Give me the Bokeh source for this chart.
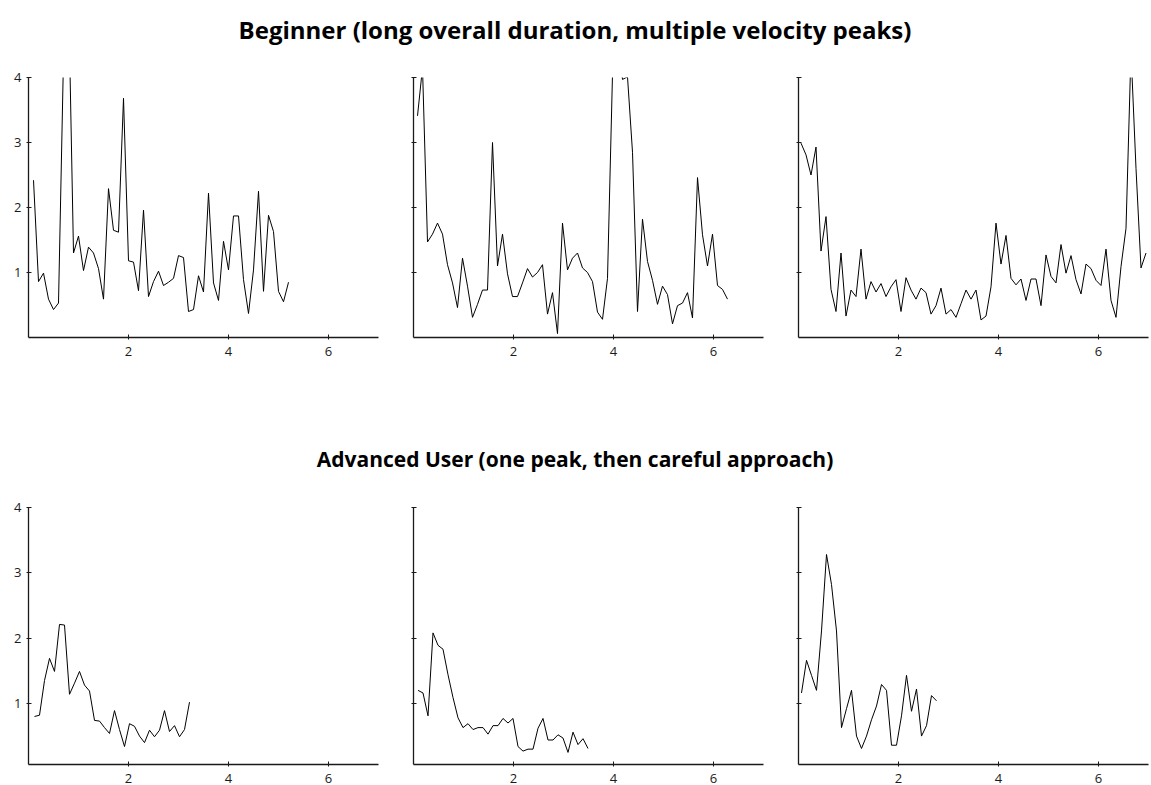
from bokeh.plotting import figure
from bokeh.layouts import column, row
from bokeh.models import Div, Range1d, FixedTicker
from bokeh.embed import file_html
from bokeh.resources import INLINE

# ---------------- data ----------------
title_top = "Beginner (long overall duration, multiple velocity peaks)"
title_bottom = "Advanced User (one peak, then careful approach)"

x_ticks = [2, 4, 6]
y_ticks = [1, 2, 3, 4]
sample_step = 0.1  # seconds between samples

beginner_1_start = 0.10
beginner_1 = [2.42, 0.86, 0.99, 0.59, 0.43, 0.53, 4.3, 5.3, 1.30, 1.56,
              1.03, 1.39, 1.30, 1.06, 0.59, 2.29, 1.65, 1.62, 3.68, 1.18,
              1.16, 0.72, 1.96, 0.63, 0.86, 1.02, 0.80, 0.85, 0.91, 1.26,
              1.23, 0.40, 0.43, 0.95, 0.70, 2.22, 0.84, 0.57, 1.48, 1.04,
              1.87, 1.87, 0.89, 0.37, 1.04, 2.25, 0.71, 1.88, 1.63, 0.71,
              0.55, 0.85]

beginner_2_start = 0.08
beginner_2 = [3.41, 4.15, 1.47, 1.59, 1.76, 1.59, 1.12, 0.84, 0.46, 1.22,
              0.79, 0.31, 0.51, 0.73, 0.73, 3.00, 1.10, 1.59, 0.98, 0.63,
              0.63, 0.84, 1.06, 0.93, 1.00, 1.12, 0.36, 0.69, 0.06, 1.76,
              1.04, 1.22, 1.30, 1.07, 1.00, 0.86, 0.39, 0.28, 0.91, 4.05,
              4.60, 3.97, 4.01, 2.85, 0.40, 1.82, 1.17, 0.88, 0.51, 0.79,
              0.66, 0.21, 0.49, 0.53, 0.69, 0.30, 2.46, 1.58, 1.10, 1.59,
              0.80, 0.74, 0.59]

beginner_3_start = 0.05
beginner_3 = [2.99, 2.81, 2.50, 2.93, 1.33, 1.86, 0.74, 0.40, 1.30, 0.33,
              0.73, 0.63, 1.36, 0.59, 0.86, 0.70, 0.83, 0.63, 0.78, 0.89,
              0.40, 0.92, 0.73, 0.59, 0.76, 0.69, 0.36, 0.49, 0.76, 0.36,
              0.43, 0.31, 0.52, 0.73, 0.59, 0.73, 0.27, 0.33, 0.78, 1.76,
              1.13, 1.57, 0.91, 0.81, 0.90, 0.57, 0.90, 0.90, 0.49, 1.27,
              0.94, 0.84, 1.43, 0.99, 1.26, 0.89, 0.67, 1.13, 1.06, 0.88,
              0.80, 1.36, 0.57, 0.31, 1.09, 1.68, 4.40, 2.60, 1.07, 1.30]

advanced_1_start = 0.12
advanced_1 = [0.80, 0.82, 1.35, 1.69, 1.49, 2.21, 2.20, 1.14, 1.31, 1.49,
              1.28, 1.19, 0.74, 0.73, 0.63, 0.54, 0.89, 0.60, 0.34, 0.69,
              0.65, 0.50, 0.40, 0.59, 0.49, 0.59, 0.89, 0.57, 0.66, 0.49,
              0.60, 1.02]

advanced_2_start = 0.09
advanced_2 = [1.20, 1.16, 0.81, 2.08, 1.89, 1.83, 1.44, 1.09, 0.78, 0.63,
              0.69, 0.60, 0.63, 0.63, 0.53, 0.66, 0.66, 0.77, 0.70, 0.77,
              0.34, 0.27, 0.30, 0.30, 0.62, 0.77, 0.44, 0.44, 0.52, 0.47,
              0.25, 0.56, 0.37, 0.46, 0.31]

advanced_3_start = 0.06
advanced_3 = [1.16, 1.66, 1.43, 1.20, 2.11, 3.28, 2.82, 2.11, 0.63, 0.92,
              1.20, 0.50, 0.31, 0.50, 0.75, 0.96, 1.29, 1.20, 0.36, 0.36,
              0.81, 1.43, 0.88, 1.22, 0.50, 0.66, 1.12, 1.04]


def times_for(start, values):
    return [round(start + sample_step * i, 4) for i in range(len(values))]


FONT = "Open Sans"


def make_panel(start, values, y_lo, show_y_labels, width, b_left, b_right,
               height, b_top, b_bottom):
    p = figure(width=width, height=height,
               x_range=Range1d(0, 7), y_range=Range1d(y_lo, 4),
               output_backend="svg", toolbar_location=None,
               min_border_left=b_left, min_border_right=b_right,
               min_border_top=b_top, min_border_bottom=b_bottom)
    p.line(times_for(start, values), values, line_color="black", line_width=1)
    p.grid.visible = False
    p.outline_line_color = None
    p.background_fill_color = "white"
    p.border_fill_color = "white"

    for ax in (p.xaxis[0], p.yaxis[0]):
        ax.axis_line_color = "#1a1a1a"
        ax.axis_line_width = 1.3
        ax.major_tick_line_color = "#1a1a1a"
        ax.major_tick_in = 3
        ax.major_tick_out = 2
        ax.minor_tick_line_color = None
        ax.major_label_text_font = FONT
        ax.major_label_text_font_size = "13px"
        ax.major_label_text_color = "#1a1a1a"

    p.xaxis.ticker = FixedTicker(ticks=x_ticks)
    p.yaxis.ticker = FixedTicker(ticks=y_ticks)
    p.xaxis.major_label_standoff = 7
    p.yaxis.major_label_standoff = 5
    if not show_y_labels:
        p.yaxis.major_label_overrides = {t: "" for t in y_ticks}
    return p


# row 1 (beginner)
H1, T1, B1 = 377, 17, 100
b1 = make_panel(beginner_1_start, beginner_1, 0, True, 393, 28, 15, H1, T1, B1)
b2 = make_panel(beginner_2_start, beginner_2, 0, False, 385, 20, 15, H1, T1, B1)
b3 = make_panel(beginner_3_start, beginner_3, 0, False, 372, 20, 2, H1, T1, B1)

# row 2 (advanced)
H2, T2, B2 = 313, 26, 30
a1 = make_panel(advanced_1_start, advanced_1, 0.065, True, 393, 28, 15, H2, T2, B2)
a2 = make_panel(advanced_2_start, advanced_2, 0.065, False, 385, 20, 15, H2, T2, B2)
a3 = make_panel(advanced_3_start, advanced_3, 0.065, False, 372, 20, 2, H2, T2, B2)


def title_div(text, height, size):
    return Div(text=text, width=1150, height=height, margin=(0, 0, 0, 0),
               styles={
                   "font-family": FONT,
                   "font-weight": "bold",
                   "font-size": f"{size}px",
                   "line-height": f"{height}px",
                   "text-align": "center",
                   "color": "#000000",
                   "white-space": "nowrap",
               })


t1 = title_div(title_top, 60, 24)
t2 = title_div(title_bottom, 44, 21)

layout = column(t1, row(b1, b2, b3), t2, row(a1, a2, a3))

open("out.html", "w").write(file_html(layout, INLINE))
